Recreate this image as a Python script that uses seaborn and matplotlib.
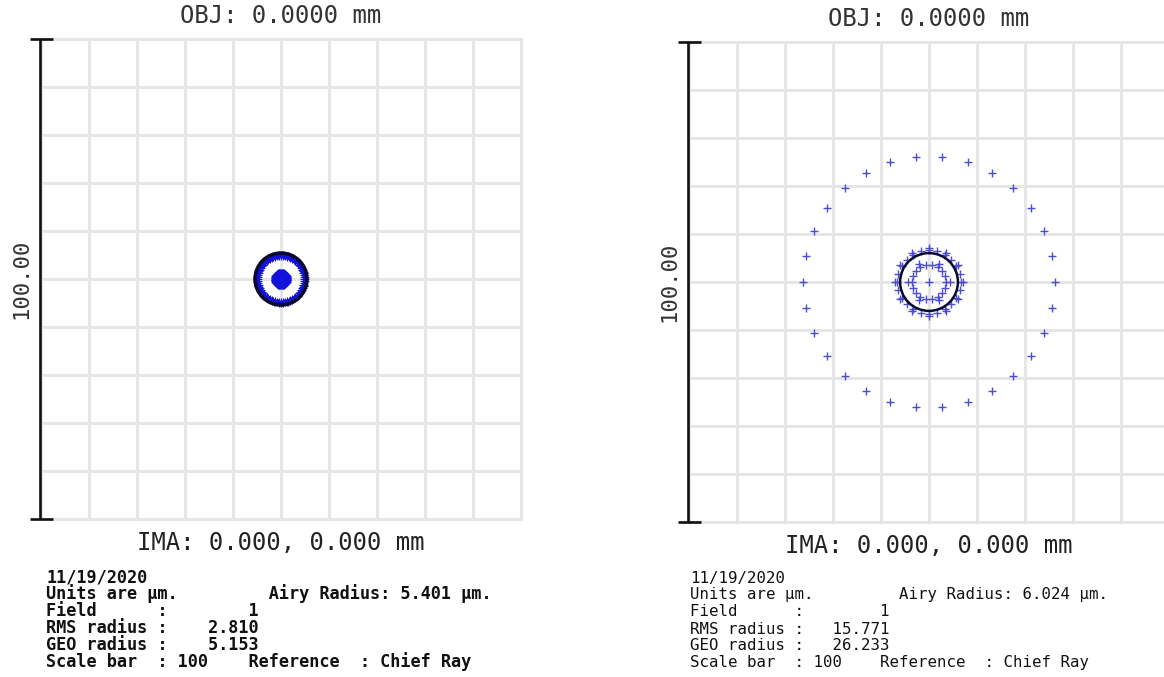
import numpy as np
import pandas as pd
import matplotlib
matplotlib.use("Agg")
import matplotlib.pyplot as plt
import seaborn as sns

# Spot diagram ray rings (radius in µm, number of rays on the ring)
LEFT_RING_RADII = [0.0, 0.4, 0.7, 0.9, 1.0, 1.0, 0.9, 0.8, 0.7, 0.8, 1.1, 1.5, 4.6, 4.9, 5.153]
LEFT_RING_COUNTS = [1, 6, 12, 18, 24, 30, 36, 42, 48, 54, 60, 66, 72, 78, 84]
RIGHT_RING_RADII = [0.0, 4.3, 7.0, 3.6, 6.6, 26.233]
RIGHT_RING_COUNTS = [1, 6, 12, 18, 24, 30]

AIRY_RADII = [5.401, 6.024]
RMS_RADII = ["2.810", "15.771"]
GEO_RADII = ["5.153", "26.233"]
SCALE_BAR = 100
OBJ_LABEL = "OBJ: 0.0000 mm"
IMA_LABEL = "IMA: 0.000, 0.000 mm"
DATE_LABEL = "11/19/2020"

W, H = 1164, 677

sns.set_theme(style="white")
plt.rcParams["font.family"] = ["DejaVu Sans Mono", "DejaVu Sans"]

fig = plt.figure(figsize=(W / 100, H / 100), dpi=100)
fig.patch.set_facecolor("white")


def ring_points(radii, counts):
    xs, ys = [], []
    for r, n in zip(radii, counts):
        ang = np.arange(n) * 2 * np.pi / n
        xs.extend(r * np.cos(ang))
        ys.extend(r * np.sin(ang))
    return pd.DataFrame({"x": xs, "y": ys})


def add_axes_px(left, top, size):
    return fig.add_axes([left / W, (H - top - size) / H, size / W, size / H])


def draw_panel(ax, df, airy, color, msize, mlw, circle_lw):
    half = SCALE_BAR / 2
    ax.set_xlim(-half, half)
    ax.set_ylim(-half, half)
    ticks = np.arange(-40, 41, 10)
    ax.set_xticks(ticks)
    ax.set_yticks(ticks)
    ax.tick_params(length=0, labelbottom=False, labelleft=False)
    ax.set_axisbelow(True)
    ax.grid(True, color="#e6e6e6", lw=2.2)
    for sp in ax.spines.values():
        sp.set_color("#e6e6e6")
        sp.set_linewidth(2.2)

    sns.scatterplot(data=df, x="x", y="y", marker="+", s=msize, color=color,
                    linewidth=mlw, ax=ax, legend=False, zorder=3)
    ax.add_patch(plt.Circle((0, 0), airy, fill=False, color="#0a0a30", lw=circle_lw, zorder=4))
    ax.set_xlabel("")
    ax.set_ylabel("")

    # scale bar with end caps
    bx = -half - 0.2
    kw = dict(color="#111111", lw=1.9, clip_on=False, solid_capstyle="butt", zorder=5)
    ax.plot([bx, bx], [-half, half], **kw)
    for yy in (-half, half):
        ax.plot([bx - 2.1, bx + 2.7], [yy, yy], **kw)
    ax.text(-half - 4.1, 0, f"{SCALE_BAR:.2f}", rotation=90, ha="center", va="center",
            fontsize=16, color="#333333")

    ax.text(0, half + 4.8, OBJ_LABEL, ha="center", va="center", fontsize=17.2, color="#333333")
    ax.text(0, -half - 5.0, IMA_LABEL, ha="center", va="center", fontsize=17.2, color="#222222")


ax_l = add_axes_px(41, 39, 480)
draw_panel(ax_l, ring_points(LEFT_RING_RADII, LEFT_RING_COUNTS), AIRY_RADII[0],
           "#1212dc", 14, 0.8, 2.6)

ax_r = add_axes_px(689, 42, 480)
draw_panel(ax_r, ring_points(RIGHT_RING_RADII, RIGHT_RING_COUNTS), AIRY_RADII[1],
           "#4d4dd2", 30, 1.0, 1.8)


def info_block(x0, y0, airy, rms, geo, size, weight):
    lines = [
        DATE_LABEL,
        "Units are µm." + " " * 9 + f"Airy Radius: {airy:.3f} µm.",
        "Field      :" + f"{1:>9}",
        "RMS radius :" + f"{rms:>9}",
        "GEO radius :" + f"{geo:>9}",
        f"Scale bar  : {SCALE_BAR}    Reference  : Chief Ray",
    ]
    for i, line in enumerate(lines):
        fig.text(x0 / W, 1 - (y0 + 17 * i) / H, line, ha="left", va="center",
                 fontsize=size, color="#111111", fontweight=weight)


info_block(46, 577, AIRY_RADII[0], RMS_RADII[0], GEO_RADII[0], 12.2, "bold")
info_block(690, 578, AIRY_RADII[1], RMS_RADII[1], GEO_RADII[1], 11.3, "normal")

fig.savefig("out.png", dpi=100, facecolor="white")
